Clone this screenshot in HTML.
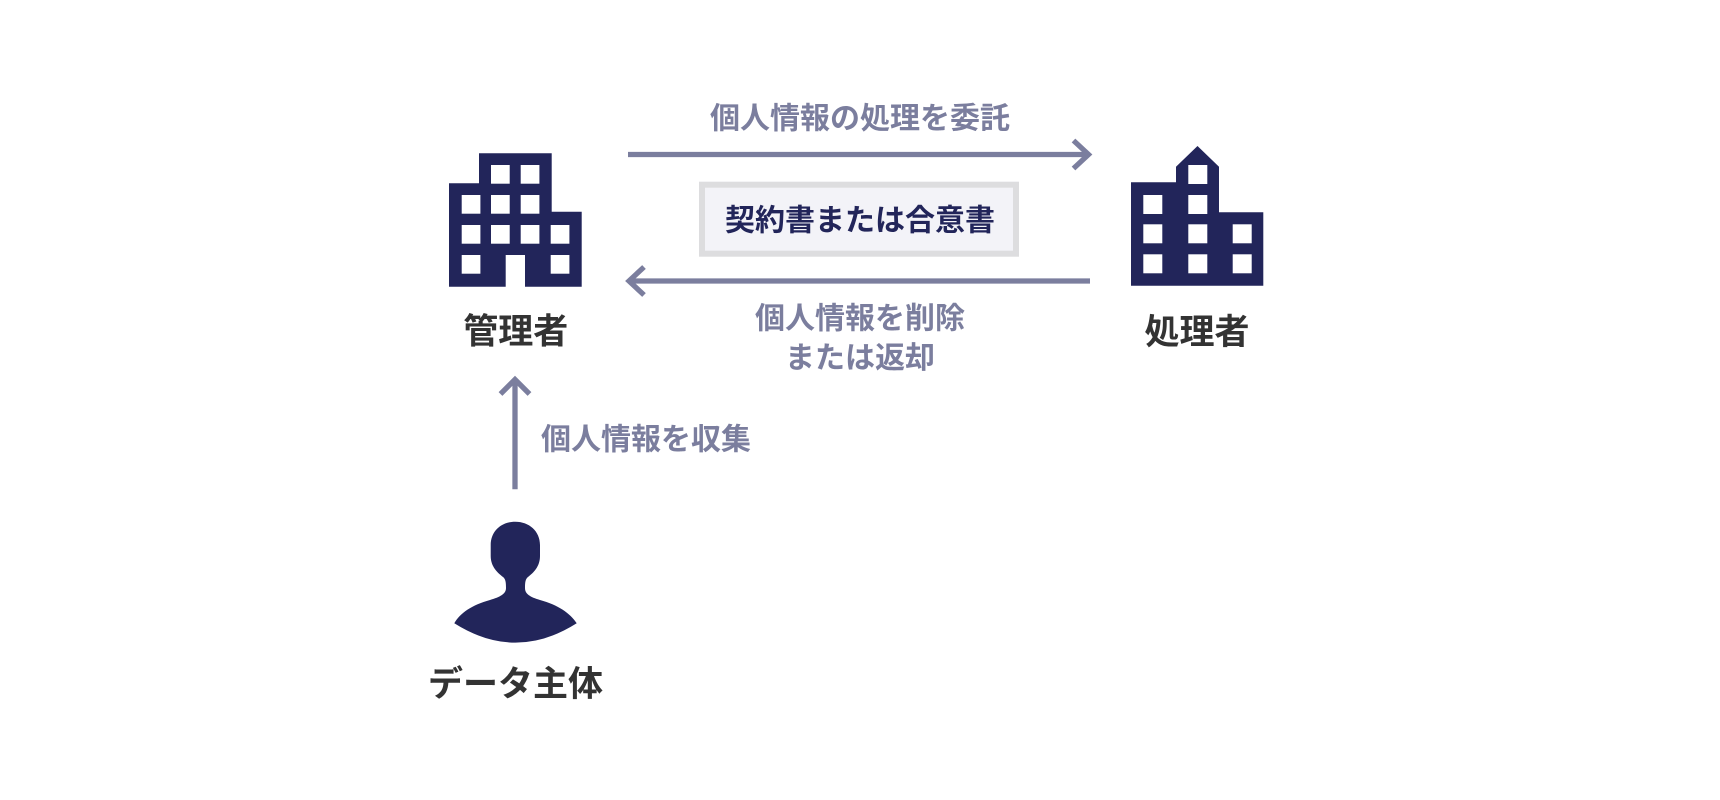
<!DOCTYPE html>
<html>
<head>
<meta charset="utf-8">
<style>
  html, body { margin: 0; padding: 0; background: #ffffff; }
  body { width: 1720px; height: 800px; overflow: hidden; }
  svg { display: block; }
  text { font-family: "Liberation Sans", "Noto Sans CJK JP", sans-serif; font-weight: bold; }
</style>
</head>
<body>
<svg width="1720" height="800" viewBox="0 0 1720 800" xmlns="http://www.w3.org/2000/svg">
  <rect x="0" y="0" width="1720" height="800" fill="#ffffff"/>

  <!-- Left building (管理者) -->
  <polygon points="449,286.7 449,183.3 479,183.3 479,153.3 551.7,153.3 551.7,211.7 581.7,211.7 581.7,286.7" fill="#22255a"/>
  <g fill="#ffffff">
    <rect x="491" y="165" width="18.7" height="18.7"/>
    <rect x="520.7" y="165" width="18.7" height="18.7"/>
    <rect x="461.7" y="195" width="18.7" height="18.7"/>
    <rect x="491" y="195" width="18.7" height="18.7"/>
    <rect x="520.7" y="195" width="18.7" height="18.7"/>
    <rect x="461.7" y="225" width="18.7" height="18.7"/>
    <rect x="491" y="225" width="18.7" height="18.7"/>
    <rect x="520.7" y="225" width="18.7" height="18.7"/>
    <rect x="550.7" y="225" width="18.7" height="18.7"/>
    <rect x="461.7" y="255" width="18.7" height="18.7"/>
    <rect x="550.7" y="255" width="18.7" height="18.7"/>
    <rect x="505.7" y="255" width="19.3" height="32"/>
  </g>

  <!-- Right building (処理者) -->
  <polygon points="1131,285.7 1131,182.3 1176,182.3 1176,166.7 1197.5,146 1219,166.7 1219,212.3 1263.3,212.3 1263.3,285.7" fill="#22255a"/>
  <g fill="#ffffff">
    <rect x="1188.3" y="165" width="19" height="19"/>
    <rect x="1143.3" y="195" width="19" height="19"/>
    <rect x="1188.3" y="195" width="19" height="19"/>
    <rect x="1143.3" y="224.3" width="19" height="19"/>
    <rect x="1188.3" y="224.3" width="19" height="19"/>
    <rect x="1232.7" y="224.3" width="19" height="19"/>
    <rect x="1143.3" y="254.3" width="19" height="19"/>
    <rect x="1188.3" y="254.3" width="19" height="19"/>
    <rect x="1232.7" y="254.3" width="19" height="19"/>
  </g>

  <!-- Person icon -->
  <path fill="#22255a" d="M 515.3,521.7
    C 529,521.7 540,531 540,545
    L 540,556
    C 540,567 533,573 528,577
    C 525.5,579 525,582 525,588
    C 525,594 530,597 540,600
    C 558,605 570,613 576.7,623.3
    Q 515.5,662 454.3,623.3
    C 460,613 472,605 490,600
    C 500,597 506,594 506,588
    C 506,582 505.5,579 503,577
    C 498,573 490.7,567 490.7,556
    L 490.7,545
    C 490.7,531 501.5,521.7 515.3,521.7 Z"/>

  <!-- Arrows -->
  <g stroke="#7b7e9e" stroke-width="5.3" fill="none" stroke-linecap="butt" stroke-linejoin="miter">
    <line x1="628" y1="154.5" x2="1088" y2="154.5"/>
    <polyline points="1073.5,140.5 1088.5,154.5 1073.5,168.5"/>
    <line x1="629" y1="281" x2="1090" y2="281"/>
    <polyline points="644,267 629,281 644,295"/>
    <line x1="515" y1="380" x2="515" y2="489.3"/>
    <polyline points="500.5,394 515,379.5 529.5,394"/>
  </g>

  <!-- Contract box -->
  <rect x="702" y="184.7" width="314" height="69" fill="#f3f3f8" stroke="#dddddf" stroke-width="6"/>
  <text x="860" y="230.5" text-anchor="middle" font-size="30" fill="#22255a">契約書または合意書</text>

  <!-- Arrow labels -->
  <text x="860" y="128.5" text-anchor="middle" font-size="30" fill="#7b7e9e">個人情報の処理を委託</text>
  <text x="860" y="328.5" text-anchor="middle" font-size="30" fill="#7b7e9e">個人情報を削除</text>
  <text x="860" y="368" text-anchor="middle" font-size="30" fill="#7b7e9e">または返却</text>
  <text x="541" y="449.3" text-anchor="start" font-size="30" fill="#7b7e9e">個人情報を収集</text>

  <!-- Node labels -->
  <text x="515.8" y="343.6" text-anchor="middle" font-size="35" fill="#333333">管理者</text>
  <text x="1197" y="344" text-anchor="middle" font-size="35" fill="#333333">処理者</text>
  <text x="515.5" y="695.8" text-anchor="middle" font-size="35" fill="#333333">データ主体</text>
</svg>
</body>
</html>
